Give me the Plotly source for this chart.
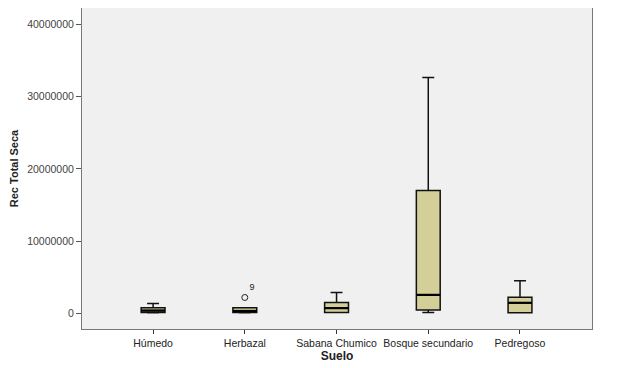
import plotly.graph_objects as go

categories = ["Húmedo", "Herbazal", "Sabana Chumico", "Bosque secundario", "Pedregoso"]
lower_fence = [50000, 50000, 80000, 100000, 40000]
q1_vals = [100000, 100000, 100000, 420000, 40000]
median_vals = [350000, 300000, 690000, 2530000, 1430000]
q3_vals = [730000, 730000, 1480000, 17000000, 2200000]
upper_fence = [1340000, 730000, 2860000, 32660000, 4500000]

outlier_cat = ["Herbazal"]
outlier_vals = [2170000]
outlier_labels = ["9"]

y_ticks = [0, 10000000, 20000000, 30000000, 40000000]

fill = "#D4CF98"
fig = go.Figure()
fig.add_trace(go.Box(
    x=categories, q1=q1_vals, median=median_vals, q3=q3_vals,
    lowerfence=lower_fence, upperfence=upper_fence,
    fillcolor=fill, line=dict(color="#111111", width=1.5),
    width=0.26, whiskerwidth=0.5, boxpoints=False, hoverinfo="skip",
    showlegend=False,
))
# thicker median lines
for i, m in enumerate(median_vals):
    fig.add_shape(type="line", xref="x", yref="y", x0=i - 0.13, x1=i + 0.13,
                  y0=m, y1=m, line=dict(color="#000000", width=2.2))

fig.add_trace(go.Scatter(
    x=outlier_cat, y=outlier_vals, mode="markers+text",
    marker=dict(symbol="circle-open", size=6, color="#222222", line=dict(width=1)),
    text=outlier_labels, textposition="top right",
    textfont=dict(size=9, color="#222222", family="Liberation Sans"),
    showlegend=False, hoverinfo="skip", cliponaxis=False,
))

fig.update_layout(
    width=625, height=360,
    margin=dict(l=74, r=41, t=0, b=39, autoexpand=False),
    paper_bgcolor="white", plot_bgcolor="#F0F0F0",
    font=dict(family="Liberation Sans, Arial, sans-serif", color="#333333", size=10),
    showlegend=False,
)
fig.update_xaxes(
    type="category", categoryorder="array", categoryarray=categories,
    range=[-0.775, 4.785], showgrid=False, zeroline=False,
    showline=True, linecolor="#777777", linewidth=1, mirror=True,
    ticks="outside", ticklen=4, tickcolor="#333333", tickwidth=1,
    tickfont=dict(size=10.5, color="#222222"),
    title=dict(text="<b>Suelo</b>", font=dict(size=12, color="#222222"), standoff=1),
)
fig.update_yaxes(
    range=[-2200000, 42300000], tickvals=y_ticks,
    ticktext=[str(v) for v in y_ticks],
    showgrid=False, zeroline=False,
    showline=True, linecolor="#777777", linewidth=1, mirror=True,
    ticks="outside", ticklen=5, tickcolor="#555555", tickwidth=1,
    tickfont=dict(size=10.5, color="#444444"),
    title=dict(text="<b>Rec Total Seca</b>", font=dict(size=11, color="#222222"), standoff=10),
)

fig.write_html("out.html")
